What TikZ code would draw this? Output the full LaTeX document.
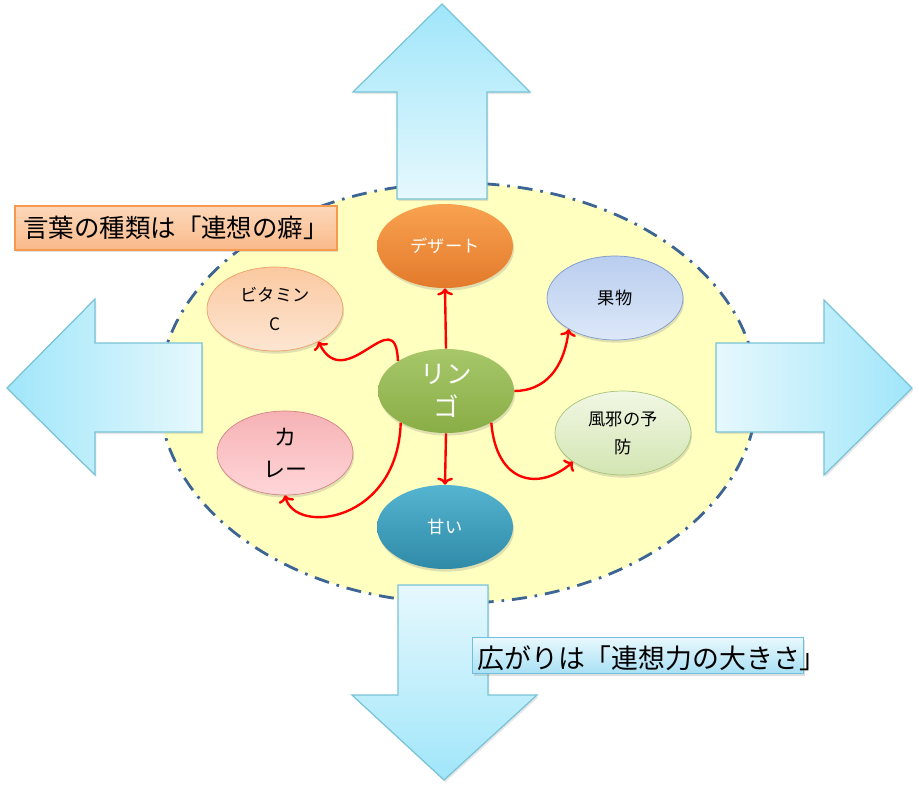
\documentclass[tikz,border=0pt]{standalone}
\usepackage{fontspec}
\setmainfont{Noto Sans CJK JP}
\usetikzlibrary{shapes.geometric, shadows, arrows.meta}

\definecolor{ringfill}{HTML}{FFFFC0}
\definecolor{ringline}{HTML}{3D6594}
\definecolor{arrtip}{HTML}{A0E6FA}
\definecolor{arrbase}{HTML}{E6F8FD}
\definecolor{arrline}{HTML}{78C3D7}
\definecolor{desTop}{HTML}{F8A24F}
\definecolor{desBot}{HTML}{E37A2C}
\definecolor{vitTop}{HTML}{FBC9A0}
\definecolor{vitBot}{HTML}{FDE6D3}
\definecolor{vitLine}{HTML}{F0A068}
\definecolor{kudTop}{HTML}{B9CDEE}
\definecolor{kudBot}{HTML}{DDE8F9}
\definecolor{kudLine}{HTML}{7D9ACB}
\definecolor{rinTop}{HTML}{A7C76A}
\definecolor{rinBot}{HTML}{89AD46}
\definecolor{kazeTop}{HTML}{F1F7E4}
\definecolor{kazeBot}{HTML}{D3E5B2}
\definecolor{kazeLine}{HTML}{A6C57A}
\definecolor{curTop}{HTML}{F6B2B5}
\definecolor{curBot}{HTML}{FFD6D8}
\definecolor{curLine}{HTML}{D38486}
\definecolor{amaTop}{HTML}{55B4D0}
\definecolor{amaBot}{HTML}{2F8AA8}
\definecolor{orgTop}{HTML}{FCD8BA}
\definecolor{orgBot}{HTML}{FAB98A}
\definecolor{orgLine}{HTML}{F59A4E}
\definecolor{bluTop}{HTML}{E8F8FD}
\definecolor{bluBot}{HTML}{A8E0F4}
\definecolor{bluLine}{HTML}{6EC0DC}

\begin{document}
\begin{tikzpicture}[x=0.02cm, y=-0.02cm,
  bubble/.style={ellipse, minimum width=2.72cm, minimum height=1.68cm,
    inner sep=0pt, align=center, font=\fontsize{9.8pt}{16pt}\selectfont,
    drop shadow={opacity=0.25, shadow xshift=0.6pt, shadow yshift=-1.5pt}},
  bigarrow/.style={draw=arrline, line width=0.7pt,
    drop shadow={opacity=0.2, shadow xshift=0.8pt, shadow yshift=-1.2pt}},
  link/.style={red, line width=1.35pt, -{To[length=4pt, width=9pt]}},
  tagbox/.style={rectangle, inner sep=0pt, line width=0.7pt,
    drop shadow={opacity=0.25, shadow xshift=0.8pt, shadow yshift=-1.2pt}}]
  \useasboundingbox (0,0) rectangle (919,788);

  % Background ring
  \draw[fill=ringfill, draw=ringline, line width=1.6pt,
    dash pattern=on 8.5pt off 4.5pt on 1.5pt off 4.5pt]
    (458,393) ellipse [x radius=299, y radius=210];

  % Four big arrows
  \path[bigarrow, top color=arrtip, bottom color=arrbase]
    (397,199) -- (397,92) -- (353,92) -- (442,4) -- (530,92) -- (487,92) -- (487,199) -- cycle;
  \path[bigarrow, top color=arrbase, bottom color=arrtip]
    (398,585) -- (398,695) -- (352,695) -- (444,780) -- (537,695) -- (488,695) -- (488,585) -- cycle;
  \path[bigarrow, left color=arrtip, right color=arrbase]
    (202,343) -- (95,343) -- (95,299) -- (7,388) -- (95,475) -- (95,432) -- (202,432) -- cycle;
  \path[bigarrow, left color=arrbase, right color=arrtip]
    (716,343) -- (824,343) -- (824,300) -- (912,388) -- (824,475) -- (824,432) -- (716,432) -- cycle;

  % Labels
  \node[tagbox, draw=orgLine, top color=orgTop, bottom color=orgBot,
    minimum width=6.44cm, minimum height=0.88cm,
    font=\fontsize{14.5pt}{17pt}\selectfont] (kind) at (176,228) {言葉の種類は「連想の癖」};
  \node[tagbox, draw=bluLine, top color=bluTop, bottom color=bluBot,
    minimum width=6.62cm, minimum height=0.72cm, anchor=north west] (spread) at (472,637) {};
  \node[anchor=west, inner sep=0pt, font=\fontsize{15.3pt}{17pt}\selectfont]
    (spreadtxt) at (477,658) {広がりは「連想力の大きさ」};

  % Bubbles
  \node[bubble, top color=desTop, bottom color=desBot, text=white] (des) at (445,246) {デザート};
  \node[bubble, draw=vitLine, top color=vitTop, bottom color=vitBot] (vit) at (275,309) {ビタミン\\C};
  \node[bubble, draw=kudLine, top color=kudTop, bottom color=kudBot] (kud) at (615,298) {果物};
  \node[bubble, top color=rinTop, bottom color=rinBot, text=white,
    font=\fontsize{14.5pt}{19pt}\selectfont] (rin) at (446,391) {リン\\ゴ};
  \node[bubble, draw=kazeLine, top color=kazeTop, bottom color=kazeBot] (kaze) at (623,433) {風邪の予\\防};
  \node[bubble, draw=curLine, top color=curTop, bottom color=curBot,
    font=\fontsize{12.5pt}{18pt}\selectfont] (cur) at (285,453) {カ\\レー};
  \node[bubble, top color=amaTop, bottom color=amaBot, text=white] (ama) at (445,527) {甘い};

  % Links
  \draw[link] (rin.north) -- (des.south);
  \draw[link] (rin.south) -- (ama.north);
  \draw[link] (rin.east) .. controls +(30,0) and +(-5,40) .. (kud.214);
  \draw[link] (rin.-35) .. controls +(5,60) and +(-35,30) .. (kaze.210);
  \draw[link] (rin.148) .. controls +(-2,-62) and +(27,55) .. (vit.-37);
  \draw[link] (rin.-145) .. controls +(-3,100) and +(10,40) .. (cur.south);
\end{tikzpicture}
\end{document}
